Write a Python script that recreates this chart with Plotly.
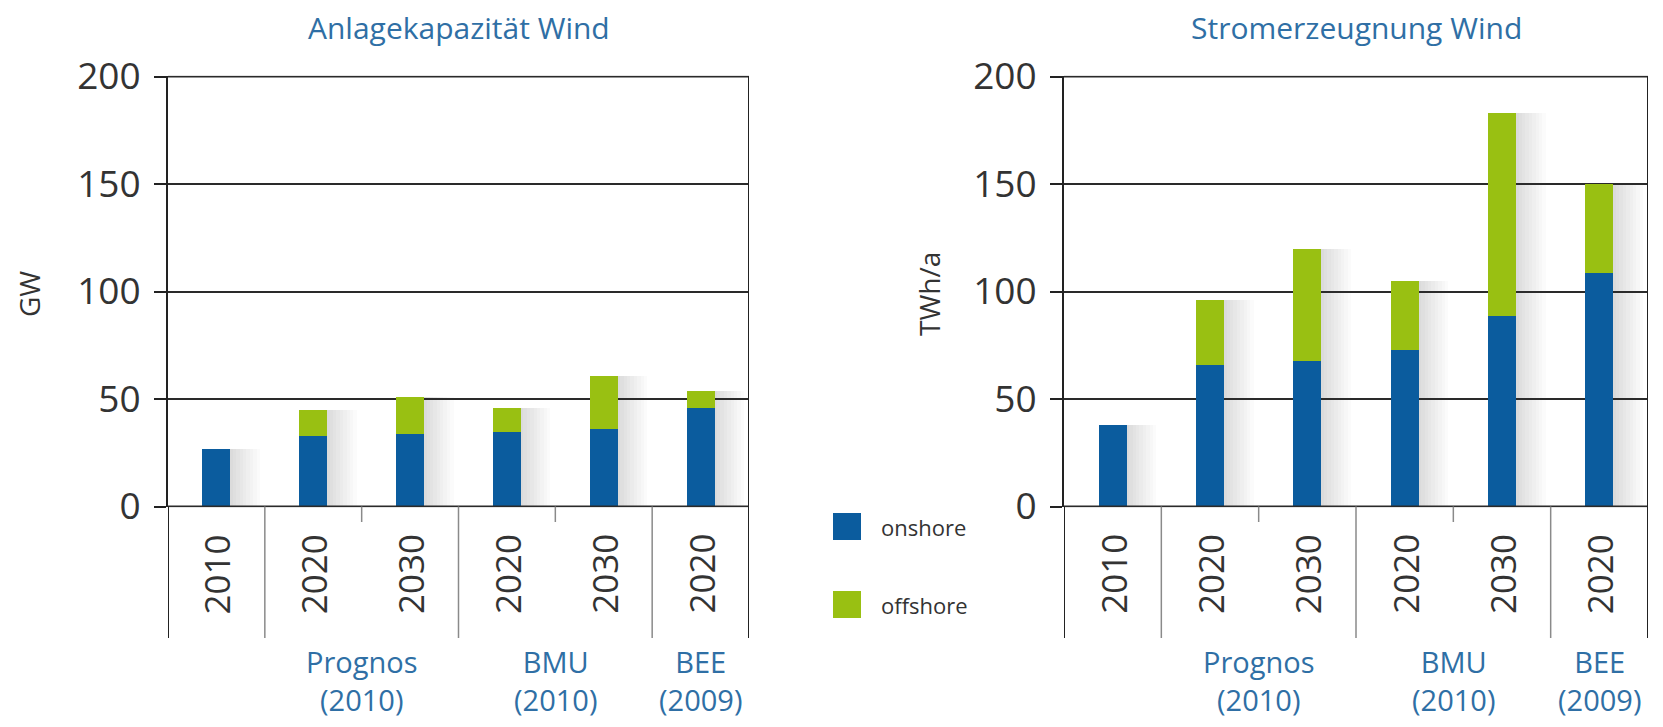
import plotly.graph_objects as go

# --- data -------------------------------------------------------------
years = ["2010", "2020", "2030", "2020", "2030", "2020"]
groups = ["Prognos<br>(2010)", "BMU<br>(2010)", "BEE<br>(2009)"]
group_pos = [1.5, 3.5, 5.0]

cap_onshore = [27, 33, 34, 35, 36, 46]      # GW
cap_offshore = [0, 12, 17, 11, 25, 8]       # GW

gen_onshore = [38, 66, 68, 73, 89, 109]     # TWh/a
gen_offshore = [0, 30, 52, 32, 94, 41]      # TWh/a

y_ticks = [0, 50, 100, 150, 200]

# --- styling ----------------------------------------------------------
W, H = 1663, 727
BLUE = "#0b5c9e"
GREEN = "#99c012"
TITLE_BLUE = "#2f6fa5"
TEXT = "#333333"
GRID = "#2a2a2a"
FONT = "Open Sans"


def py(px):
    """pixel row -> paper y"""
    return (H - px) / H


def pxx(px):
    return px / W


# pixel rows of the value axis (0 and 200) and of the label frame
y_zero, y_top = 506.5, 76.5
y_long, y_short = 638, 522
pad = 0.4
unit_px = (y_zero - y_top) / 200.0

panels = [
    dict(x0=168, x1=749, on=cap_onshore, off=cap_offshore,
         title="Anlagekapazität Wind", unit="GW", unit_x=29),
    dict(x0=1064, x1=1648, on=gen_onshore, off=gen_offshore,
         title="Stromerzeugnung Wind", unit="TWh/a", unit_x=929),
]

fig = go.Figure()
xs = list(range(len(years)))
bar_w = 0.29

annotations = []
shapes = []

for i, p in enumerate(panels):
    xa = "x" if i == 0 else "x2"
    ya = "y" if i == 0 else "y2"
    total = [a + b for a, b in zip(p["on"], p["off"])]

    # soft drop shadow to the right of each column
    n_layers = 9
    for k in range(n_layers):
        fig.add_trace(go.Bar(
            x=xs, y=total, base=0, width=0.035 * (k + 1),
            offset=bar_w / 2 - 0.01,
            marker=dict(color="rgba(80,80,80,0.022)", line=dict(width=0)),
            xaxis=xa, yaxis=ya, showlegend=False, hoverinfo="skip"))

    fig.add_trace(go.Bar(
        x=xs, y=p["on"], base=0, width=bar_w, name="onshore",
        marker=dict(color=BLUE, line=dict(width=0)),
        xaxis=xa, yaxis=ya, showlegend=False))
    fig.add_trace(go.Bar(
        x=xs, y=p["off"], base=p["on"], width=bar_w, name="offshore",
        marker=dict(color=GREEN, line=dict(width=0)),
        xaxis=xa, yaxis=ya, showlegend=False))

    # grid lines at the two ends of the value range
    for yv in (y_ticks[0], y_ticks[-1]):
        shapes.append(dict(type="line", xref=xa, yref=ya,
                           x0=-0.5, x1=5.5, y0=yv, y1=yv,
                           line=dict(color=GRID, width=2)))

    # panel title
    annotations.append(dict(
        x=(p["x0"] + p["x1"]) / 2 / W, y=py(28), xref="paper", yref="paper",
        text=p["title"], showarrow=False, xanchor="center", yanchor="middle",
        font=dict(family=FONT, size=30, color=TITLE_BLUE)))
    # unit label
    annotations.append(dict(
        x=pxx(p["unit_x"]), y=py(294), xref="paper", yref="paper",
        text=p["unit"], showarrow=False, textangle=-90,
        xanchor="center", yanchor="middle",
        font=dict(family=FONT, size=28, color=TEXT)))
    # category labels
    for j, yr in enumerate(years):
        annotations.append(dict(
            x=j, y=py(574), xref=xa, yref="paper", text=yr,
            showarrow=False, textangle=-90, xanchor="center",
            yanchor="middle", font=dict(family=FONT, size=35, color=TEXT)))
    # source group labels
    for g, gx in zip(groups, group_pos):
        annotations.append(dict(
            x=gx, y=py(680), xref=xa, yref="paper", text=g,
            showarrow=False, xanchor="center", yanchor="middle",
            font=dict(family=FONT, size=29, color=TITLE_BLUE)))

    # frame below the zero line: outer edges and category dividers
    shapes.append(dict(type="line", xref=xa, yref="paper",
                       x0=-0.5, x1=-0.5, y0=py(y_long), y1=py(y_zero),
                       line=dict(color="#222222", width=2)))
    shapes.append(dict(type="line", xref=xa, yref="paper",
                       x0=5.5, x1=5.5, y0=py(y_long), y1=py(y_top),
                       line=dict(color="#222222", width=2)))
    for d in [0.5, 2.5, 4.5]:
        shapes.append(dict(type="line", xref=xa, yref="paper",
                           x0=d, x1=d, y0=py(y_long), y1=py(y_zero),
                           line=dict(color="#8a8a8a", width=1.5)))
    for d in [1.5, 3.5]:
        shapes.append(dict(type="line", xref=xa, yref="paper",
                           x0=d, x1=d, y0=py(y_short), y1=py(y_zero),
                           line=dict(color="#8a8a8a", width=1.5)))

# legend swatches and labels
for label, color, cy in [("onshore", BLUE, 527), ("offshore", GREEN, 605)]:
    shapes.append(dict(type="rect", xref="paper", yref="paper",
                       x0=pxx(833), x1=pxx(861), y0=py(cy + 13), y1=py(cy - 14),
                       fillcolor=color, line=dict(width=0)))
    annotations.append(dict(
        x=pxx(879), y=py(cy), xref="paper", yref="paper", text=label,
        showarrow=False, xanchor="left", yanchor="middle",
        font=dict(family=FONT, size=22, color=TEXT)))

xaxis_common = dict(range=[-0.5, 5.5], showticklabels=False, showgrid=False,
                    zeroline=False, showline=False, ticks="", automargin=False)
yaxis_common = dict(range=[-pad, 200 + pad], tickvals=y_ticks, showgrid=True,
                    gridcolor=GRID, gridwidth=2, zeroline=False,
                    showline=True, linecolor="#222222", linewidth=2,
                    ticks="outside", ticklen=12, tickwidth=2,
                    tickcolor="#222222", ticklabelstandoff=6, automargin=False,
                    tickfont=dict(family=FONT, size=37, color=TEXT))

y_dom = [py(y_zero + pad * unit_px), py(y_top - pad * unit_px)]

fig.update_layout(
    width=W, height=H,
    margin=dict(l=0, r=0, t=0, b=0, pad=0, autoexpand=False),
    paper_bgcolor="white", plot_bgcolor="white",
    barmode="overlay", bargap=0,
    showlegend=False,
    xaxis=dict(domain=[pxx(168), pxx(749)], anchor="y", **xaxis_common),
    yaxis=dict(domain=y_dom, anchor="x", **yaxis_common),
    xaxis2=dict(domain=[pxx(1064), pxx(1648)], anchor="y2", **xaxis_common),
    yaxis2=dict(domain=y_dom, anchor="x2", **yaxis_common),
    annotations=annotations,
    shapes=shapes,
)

fig.write_html("out.html")
